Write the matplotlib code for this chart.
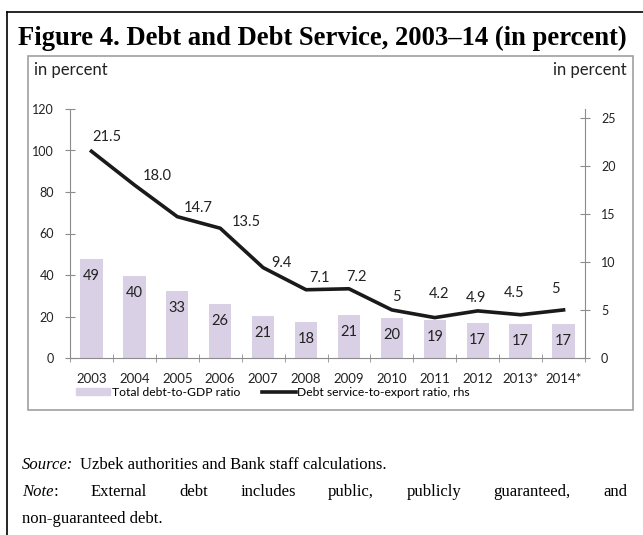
import matplotlib.pyplot as plt
from matplotlib.patches import Rectangle
from matplotlib.lines import Line2D

years = ['2003', '2004', '2005', '2006', '2007', '2008', '2009', '2010',
         '2011', '2012', '2013*', '2014*']
debt_gdp = [47.7, 39.7, 32.3, 26.0, 20.2, 17.3, 20.7, 19.4, 18.3, 17.0, 16.4, 16.4]
debt_gdp_labels = ['49', '40', '33', '26', '21', '18', '21', '20', '19', '17', '17', '17']
debt_service = [21.5, 18.0, 14.7, 13.5, 9.4, 7.1, 7.2, 5.0, 4.2, 4.9, 4.5, 5.0]
debt_service_labels = ['21.5', '18.0', '14.7', '13.5', '9.4', '7.1', '7.2', '5',
                       '4.2', '4.9', '4.5', '5']

# label offsets in pixels (layout only)
line_label_offsets = [(15, 14), (23, 9), (21, 9), (26, 6), (18, 5), (13, 12),
                      (8, 12), (5, 13), (4, 24), (-2, 13), (-7, 22), (-8, 21)]

sans = ['Lato', 'DejaVu Sans']
serif = 'Liberation Serif'
grey = '#8c8c8c'
bar_color = '#d9d0e5'
W, H = 643, 535


def fx(px):
    return px / W


def fy(py):
    return 1 - py / H


def justified(fig, words, x0, x1, y, size):
    # words: list of lists of (text, style) pieces glued together
    r = fig.canvas.get_renderer()
    groups = []
    for w in words:
        pieces = []
        for txt, st in w:
            t = fig.text(0, fy(y), txt, family=serif, style=st, fontsize=size, va='center')
            pieces.append((t, t.get_window_extent(r).width))
        groups.append(pieces)
    widths = [sum(p[1] for p in g) for g in groups]
    gap = (x1 - x0 - sum(widths)) / (len(groups) - 1)
    x = x0
    for g, wd in zip(groups, widths):
        xx = x
        for t, pw in g:
            t.set_x(fx(xx))
            xx += pw
        x += wd + gap


fig = plt.figure(figsize=(6.43, 5.35), dpi=100)

# outer frame (top and left lines)
fig.add_artist(Line2D([fx(7), 1.0], [fy(12)] * 2, color='black', lw=1.2,
                      transform=fig.transFigure))
fig.add_artist(Line2D([fx(7)] * 2, [0, fy(12)], color='black', lw=1.2,
                      transform=fig.transFigure))
# inner chart box
fig.add_artist(Rectangle((fx(28), fy(410)), (633 - 28) / W, (410 - 56) / H,
                         fill=False, edgecolor='#a0a0a0', lw=1.2,
                         transform=fig.transFigure))

fig.text(fx(18), fy(38), 'Figure 4. Debt and Debt Service, 2003\u201314 (in percent)',
         family=serif, weight='bold', fontsize=19.2, va='center', ha='left')

ax = fig.add_axes([fx(70), fy(358), (585 - 70) / W, (358 - 109) / H])
ax2 = ax.twinx()

x = list(range(len(years)))
ax.bar(x, debt_gdp, width=0.52, color=bar_color, zorder=1)
for xi, v, lab in zip(x, debt_gdp, debt_gdp_labels):
    ax.annotate(lab, (xi, v), xytext=(0, -17), textcoords='offset pixels',
                ha='center', va='center', fontsize=10.5, family=sans, color='#222222')

ax2.plot(x, debt_service, color='#1a1a1a', lw=2.6, solid_joinstyle='round', zorder=3)
for xi, v, lab, off in zip(x, debt_service, debt_service_labels, line_label_offsets):
    ax2.annotate(lab, (xi, v), xytext=off, textcoords='offset pixels',
                 ha='center', va='center', fontsize=10.5, family=sans, color='#222222')

ax.set_xlim(-0.5, len(years) - 0.5)
ax.set_ylim(0, 120)
ax2.set_ylim(0, 25.9)
ax.set_yticks(range(0, 121, 20))
ax2.set_yticks(range(0, 26, 5))
ax.set_xticks(x)
ax.set_xticklabels(years)
ax.set_xticks([i - 0.5 for i in range(len(years) + 1)], minor=True)
ax.tick_params(axis='x', which='major', length=0, pad=11, labelsize=9.5)
ax.tick_params(axis='x', which='minor', length=6, direction='inout', color=grey)
ax.tick_params(axis='y', length=7, direction='inout', color=grey, labelsize=9, pad=8)
ax2.tick_params(axis='y', length=7, direction='inout', color=grey, labelsize=9, pad=8)
for lab in ax.get_xticklabels() + ax.get_yticklabels() + ax2.get_yticklabels():
    lab.set_family(sans)
    lab.set_color('#222222')

for a in (ax, ax2):
    a.spines['top'].set_visible(False)
    for s in ('left', 'right', 'bottom'):
        a.spines[s].set_color(grey)
ax.spines['right'].set_visible(False)
ax2.spines['left'].set_visible(False)
ax2.spines['bottom'].set_visible(False)
ax.set_zorder(ax2.get_zorder() - 1)
ax2.patch.set_visible(False)

fig.text(fx(34), fy(70), 'in percent', family=sans, fontsize=12, va='center', ha='left',
         color='#222222')
fig.text(fx(627), fy(70), 'in percent', family=sans, fontsize=12, va='center', ha='right',
         color='#222222')

handles = [Rectangle((0, 0), 1, 1, color=bar_color),
           Line2D([0], [0], color='#1a1a1a', lw=2.6)]
fig.legend(handles, ['Total debt-to-GDP ratio', 'Debt service-to-export ratio, rhs'],
           loc='center', bbox_to_anchor=(fx(273), fy(392)), ncol=2, frameon=False,
           prop={'family': sans, 'size': 8.7}, handlelength=2.8, handletextpad=0.15,
           columnspacing=1.8, handleheight=0.5)

fig.text(fx(22), fy(465), 'Source:', family=serif, style='italic', fontsize=12,
         va='center', ha='left')
fig.text(fx(80), fy(465), 'Uzbek authorities and Bank staff calculations.',
         family=serif, fontsize=12, va='center', ha='left')
note_words = [[('Note', 'italic'), (':', 'normal')]] + [
    [(w, 'normal')] for w in
    ['External', 'debt', 'includes', 'public,', 'publicly', 'guaranteed,', 'and']]
justified(fig, note_words, 22, 627, 492, 12)
fig.text(fx(22), fy(519), 'non-guaranteed debt.', family=serif, fontsize=12,
         va='center', ha='left')

fig.savefig('out.png', dpi=100)
